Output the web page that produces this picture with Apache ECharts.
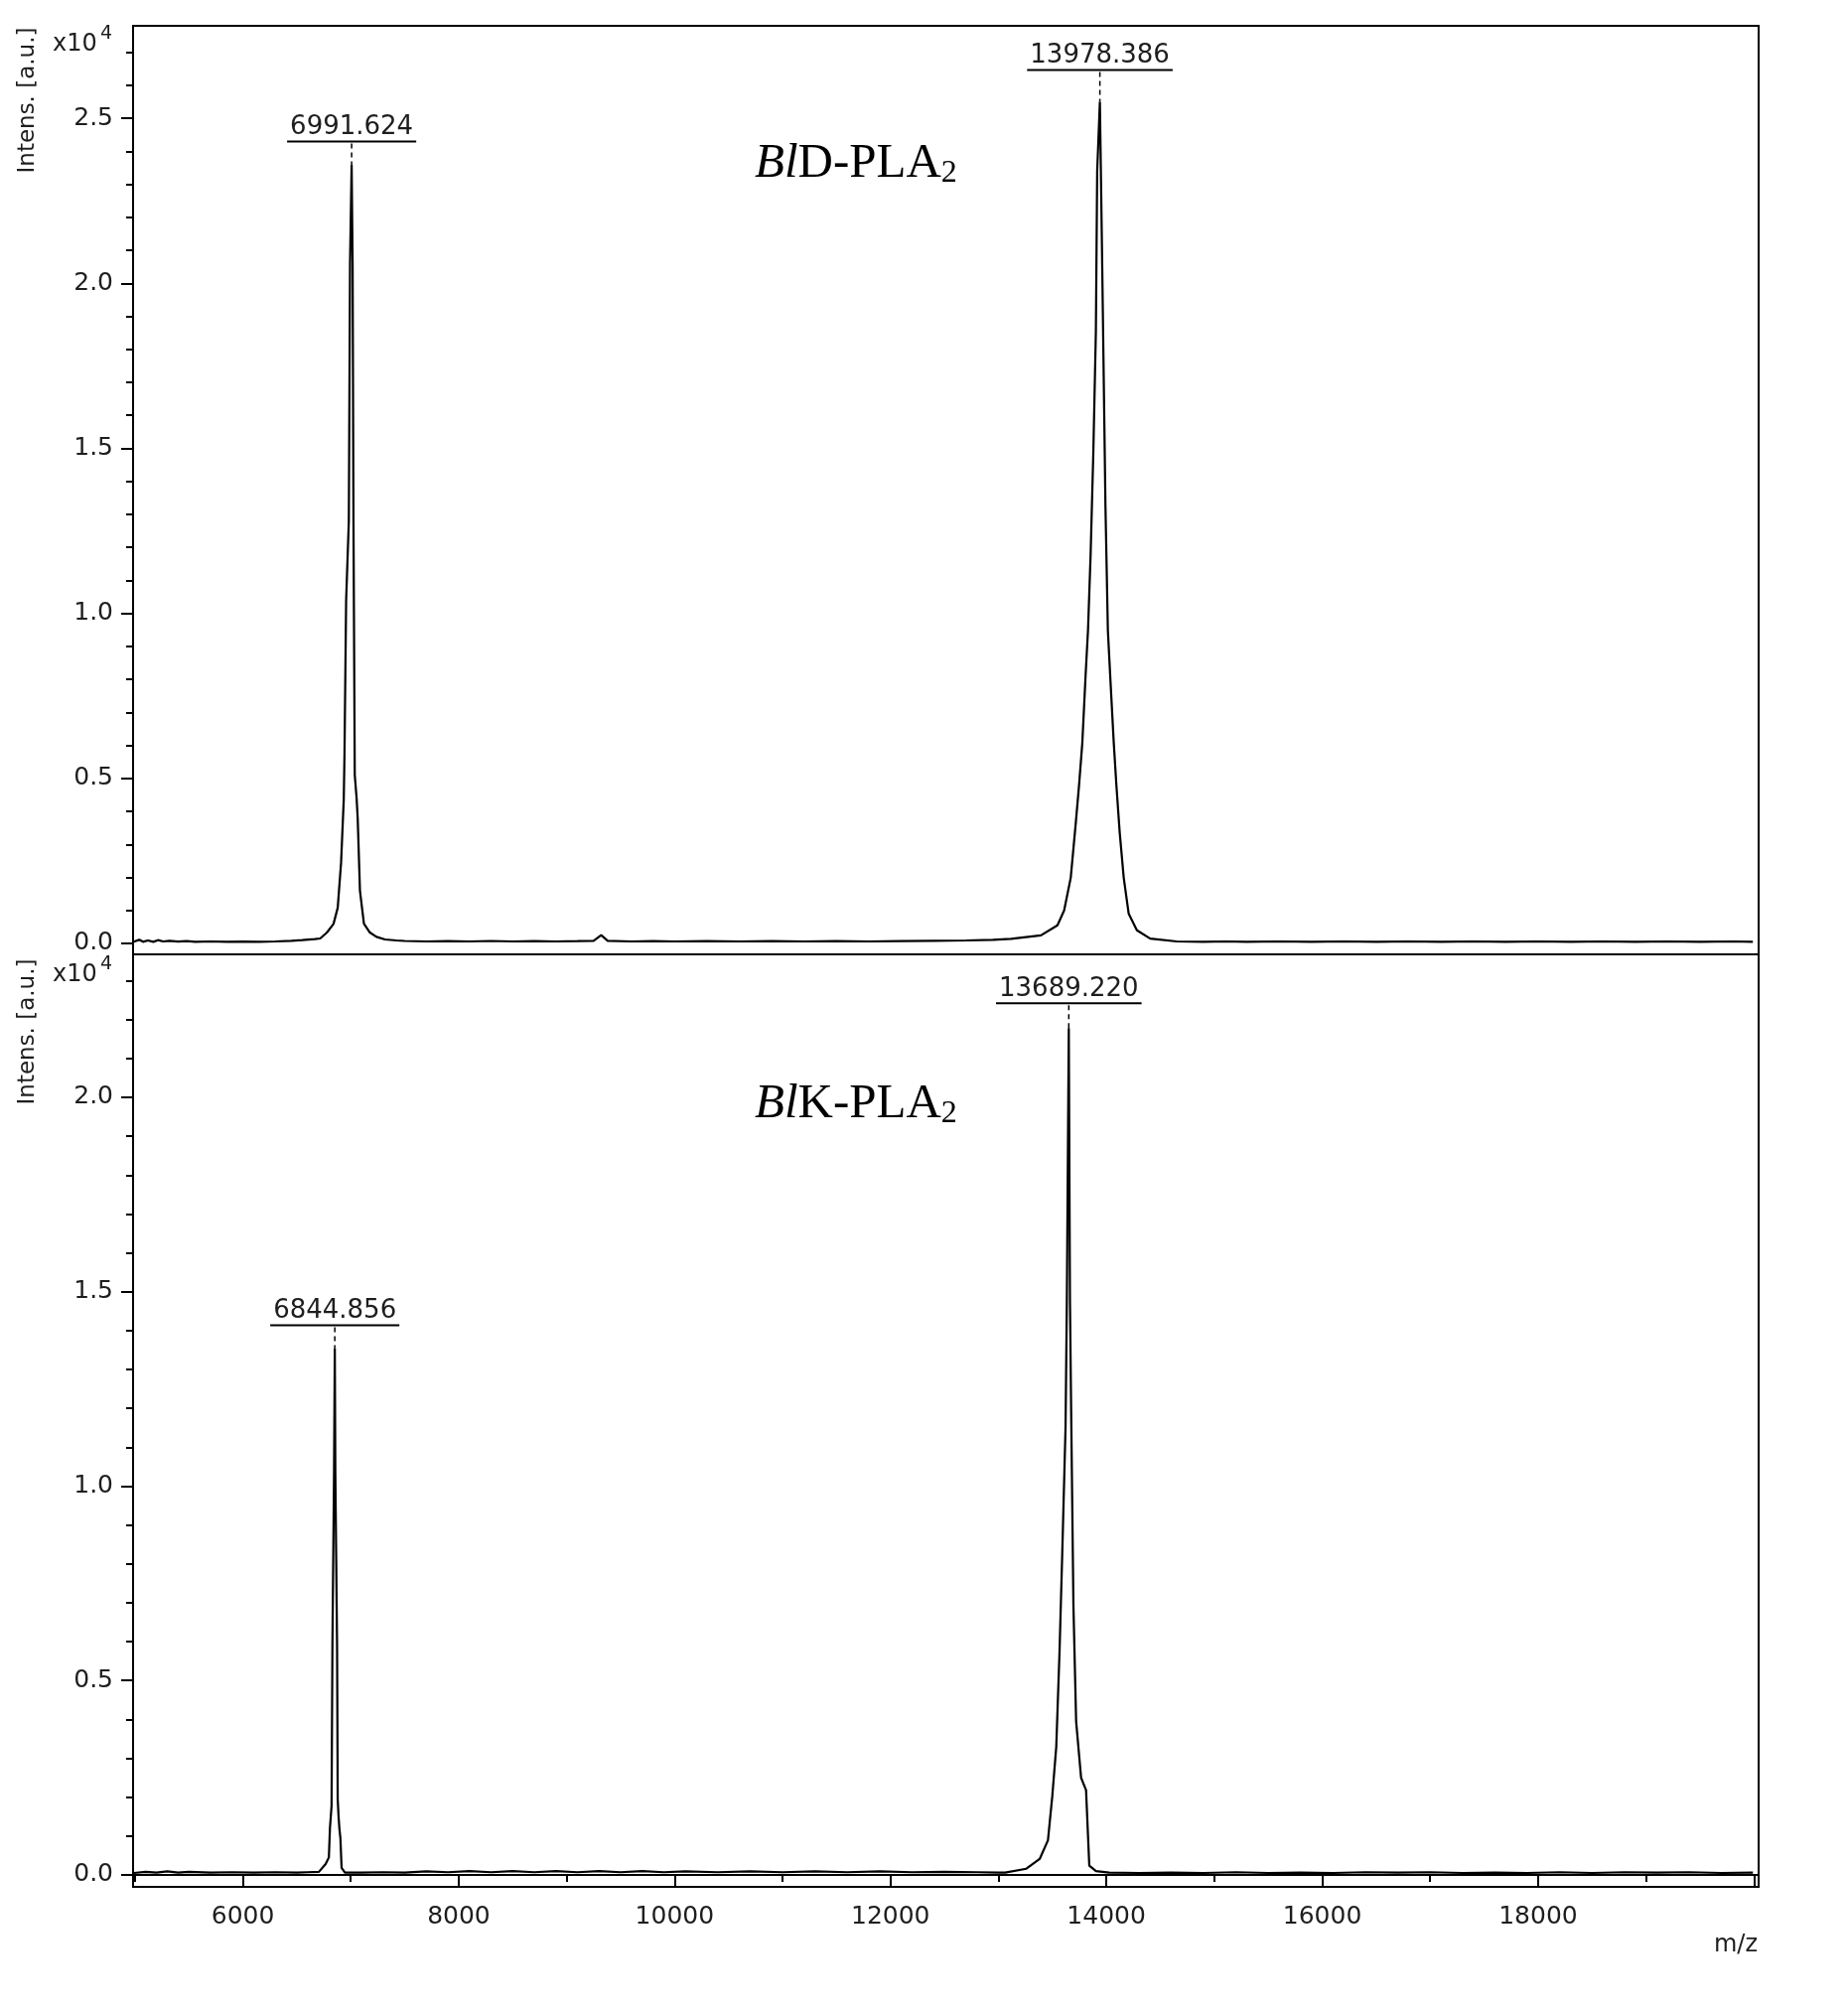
<!DOCTYPE html>
<html><head><meta charset="utf-8">
<script src="https://cdn.jsdelivr.net/npm/echarts@6/dist/echarts.min.js"></script>
<style>html,body{margin:0;padding:0;background:#fff}#c{width:1861px;height:2024px}</style>
</head><body><div id="c"></div>
<script>
// ---------- DATA ----------
// x axis (m/z)
const xRange = [4983, 20043];
const xTickLabels = [6000, 8000, 10000, 12000, 14000, 16000, 18000];
const xMajorTicks = [6000, 8000, 10000, 12000, 14000, 16000, 18000, 20000];
const xMinorTicks = [5000, 7000, 9000, 11000, 13000, 15000, 17000, 19000];
// y axes (intensity, a.u.)
const yRangeTop = [-331, 27800];
const yRangeBottom = [-307, 23678];
const yLabelsTop = [0, 5000, 10000, 15000, 20000, 25000];
const yMinorTop = [1000, 2000, 3000, 4000, 6000, 7000, 8000, 9000, 11000, 12000, 13000, 14000, 16000, 17000, 18000, 19000, 21000, 22000, 23000, 24000, 26000, 27000];
const yLabelsBottom = [0, 5000, 10000, 15000, 20000];
const yMinorBottom = [1000, 2000, 3000, 4000, 6000, 7000, 8000, 9000, 11000, 12000, 13000, 14000, 16000, 17000, 18000, 19000, 21000, 22000, 23000];

// BlD-PLA2 spectrum [m/z, intensity]
const spectrumD = [
  [4990,50],[5040,110],[5075,50],[5120,90],[5170,50],[5215,100],[5260,60],[5320,80],[5400,55],[5480,70],[5560,50],[5700,60],[5850,50],[6000,55],[6150,50],[6300,60],[6450,80],[6550,100],
  [6667,130],[6717,150],[6779,330],[6840,590],[6879,1080],[6910,2440],[6935,4360],[6942,5780],[6957,10400],[6982,12800],[6993,20600],[7008,23600],
  [7017,20600],[7025,12800],[7037,5100],[7054,4400],[7064,3800],[7085,1600],[7122,600],[7177,330],[7238,200],[7317,120],[7422,90],
  [7500,75],[7700,60],[7900,70],[8100,60],[8300,75],[8500,60],[8700,70],[8900,60],[9100,70],[9250,80],[9320,250],[9380,80],[9600,60],[9800,70],[10000,60],[10300,70],[10600,60],[10900,70],[11200,60],[11500,70],[11800,60],[12100,70],[12400,80],[12700,90],[12950,110],
  [13118,140],[13394,245],[13547,550],[13609,1000],[13670,1990],[13716,3620],[13747,4790],[13777,6060],[13808,8140],[13830,9490],[13854,11760],[13879,14830],[13903,18540],[13915,23400],[13940,25500],
  [13961,20700],[13992,13200],[14014,9490],[14038,7960],[14069,6060],[14093,4790],[14124,3350],[14161,1990],[14207,900],[14283,400],[14406,145],[14652,60],
  [14900,50],[15100,60],[15300,50],[15600,60],[15900,50],[16200,60],[16500,50],[16800,60],[17100,50],[17400,60],[17700,50],[18000,60],[18300,50],[18600,60],[18900,50],[19200,60],[19500,50],[19800,60],[19990,50]
];
// BlK-PLA2 spectrum [m/z, intensity]
const spectrumK = [
  [4990,50],[5100,80],[5200,60],[5300,90],[5400,60],[5500,80],[5700,60],[5900,70],[6100,60],[6300,70],[6500,60],[6600,70],
  [6705,80],[6767,280],[6797,450],[6807,1200],[6822,1775],[6830,5920],[6845,10340],[6852,13550],
  [6857,10340],[6873,5920],[6879,1940],[6887,1500],[6895,1175],[6904,945],[6915,180],[6946,60],
  [7100,60],[7300,70],[7500,60],[7700,90],[7900,70],[8100,100],[8300,70],[8500,100],[8700,70],[8900,100],[9100,70],[9300,100],[9500,70],[9700,100],[9900,70],[10100,90],[10400,70],[10700,90],[11000,70],[11300,90],[11600,70],[11900,90],[12200,70],[12500,80],[12800,70],[13000,60],
  [13063,60],[13259,160],[13382,410],[13459,890],[13499,2020],[13536,3300],[13566,5720],[13591,8220],[13622,11520],[13634,14750],[13652,21780],
  [13663,14750],[13674,11930],[13695,6930],[13720,3950],[13766,2500],[13812,2180],[13842,240],[13904,100],[14026,60],
  [14300,50],[14600,60],[14900,50],[15200,70],[15500,50],[15800,60],[16100,50],[16400,70],[16700,60],[17000,70],[17300,50],[17600,60],[17900,50],[18200,70],[18500,50],[18800,70],[19100,60],[19400,70],[19700,50],[19990,60]
];
// labelled peaks [apex m/z, apex intensity, label]
const peaksD = [[7008, 23600, '6991.624'], [13940, 25500, '13978.386']];
const peaksK = [[6852, 13550, '6844.856'], [13652, 21780, '13689.220']];
const titleD = ['Bl', 'D-PLA', '2'];
const titleK = ['Bl', 'K-PLA', '2'];

// ---------- STYLE / CHART ----------
const labelGapD = [23, 32];
const labelGapK = [23, 25];
const FONT = '"DejaVu Sans", sans-serif';
const TXT = '#1e1e1e';
const chart = echarts.init(document.getElementById('c'), null, {renderer: 'canvas'});

const mctx = document.createElement('canvas').getContext('2d');
function textW(t, f) { mctx.font = f; return mctx.measureText(t).width; }

const LEFT = 134, RIGHT_EDGE = 1771, TOP = 26, MID = 961, BOTTOM = 1900;

function yAxes(grid, range, labels, minor) {
  return [
    {type: 'value', gridIndex: grid, min: range[0], max: range[1], position: 'left',
     axisLine: {show: true, lineStyle: {color: '#000', width: 2}},
     axisTick: {show: true, length: 12, lineStyle: {color: '#000', width: 2}, customValues: labels},
     axisLabel: {show: true, margin: 20, color: TXT, fontSize: 25, fontFamily: FONT, customValues: labels,
                 formatter: v => (v / 10000).toFixed(1)},
     splitLine: {show: false}},
    {type: 'value', gridIndex: grid, min: range[0], max: range[1], position: 'left',
     axisLine: {show: false},
     axisTick: {show: true, length: 7, lineStyle: {color: '#000', width: 2}, customValues: minor},
     axisLabel: {show: false}, splitLine: {show: false}}
  ];
}

function peakSeries(peaks, gaps, xi, yi) {
  return {
    type: 'custom', coordinateSystem: 'cartesian2d', xAxisIndex: xi, yAxisIndex: yi,
    data: peaks.map(p => [p[0], p[1]]), silent: true, z: 5, animation: false,
    renderItem: function (params, api) {
      const p = api.coord([api.value(0), api.value(1)]);
      const txt = peaks[params.dataIndex][2];
      const f = '26px ' + FONT;
      const w = textW(txt, f) + 6;
      const uy = p[1] - gaps[params.dataIndex];
      return {type: 'group', children: [
        {type: 'line', shape: {x1: p[0] - w / 2, y1: uy, x2: p[0] + w / 2, y2: uy}, style: {stroke: '#000', lineWidth: 2}},
        {type: 'line', shape: {x1: p[0], y1: uy + 2, x2: p[0], y2: p[1]}, style: {stroke: '#000', lineWidth: 1.5, lineDash: [5, 4]}},
        {type: 'text', x: p[0], y: uy - 1, style: {text: txt, font: f, fill: TXT, align: 'center', verticalAlign: 'bottom'}}
      ]};
    }
  };
}

function title(parts, y) {
  return {
    type: 'text', left: 760, top: y, silent: true,
    style: {
      text: '{i|' + parts[0] + '}{n|' + parts[1] + '}{s|' + parts[2] + '}',
      rich: {
        i: {fontFamily: '"Liberation Serif", serif', fontStyle: 'italic', fontSize: 49, lineHeight: 50, fill: '#000'},
        n: {fontFamily: '"Liberation Serif", serif', fontSize: 49, lineHeight: 50, fill: '#000'},
        s: {fontFamily: '"Liberation Serif", serif', fontSize: 32, lineHeight: 22, verticalAlign: 'bottom', fill: '#000'}
      }
    }
  };
}

function scaleLabel(y) {
  return [
    {type: 'text', left: 53, top: y - 12, silent: true, style: {text: 'x10', font: '24px ' + FONT, fill: TXT}},
    {type: 'text', left: 101, top: y - 20, silent: true, style: {text: '4', font: '19px ' + FONT, fill: TXT}}
  ];
}
function intensLabel(cy) {
  return {type: 'text', x: 28, y: cy, rotation: Math.PI / 2, silent: true,
          style: {text: 'Intens. [a.u.]', font: '23px ' + FONT, fill: TXT, align: 'center', verticalAlign: 'middle'}};
}

const option = {
  animation: false,
  backgroundColor: '#fff',
  grid: [
    {left: LEFT, top: TOP, width: RIGHT_EDGE - LEFT, height: MID - TOP, show: true, borderColor: '#000', borderWidth: 2, backgroundColor: 'transparent'},
    {left: LEFT, top: MID, width: RIGHT_EDGE - LEFT, height: BOTTOM - MID, show: true, borderColor: '#000', borderWidth: 2, backgroundColor: 'transparent'}
  ],
  xAxis: [
    {type: 'value', gridIndex: 0, min: xRange[0], max: xRange[1], axisLine: {show: false}, axisTick: {show: false}, axisLabel: {show: false}, splitLine: {show: false}},
    {type: 'value', gridIndex: 1, min: xRange[0], max: xRange[1], position: 'bottom',
     axisLine: {show: true, lineStyle: {color: '#000', width: 2}},
     axisTick: {show: true, length: 12, lineStyle: {color: '#000', width: 2}, customValues: xMajorTicks},
     axisLabel: {show: true, margin: 18, color: TXT, fontSize: 25, fontFamily: FONT, customValues: xTickLabels,
                 formatter: v => String(v)},
     splitLine: {show: false}},
    {type: 'value', gridIndex: 1, min: xRange[0], max: xRange[1], position: 'bottom',
     axisLine: {show: false},
     axisTick: {show: true, length: 7, lineStyle: {color: '#000', width: 2}, customValues: xMinorTicks},
     axisLabel: {show: false}, splitLine: {show: false}}
  ],
  yAxis: [].concat(yAxes(0, yRangeTop, yLabelsTop, yMinorTop), yAxes(1, yRangeBottom, yLabelsBottom, yMinorBottom)),
  series: [
    {type: 'line', xAxisIndex: 0, yAxisIndex: 0, data: spectrumD, showSymbol: false, symbol: 'none',
     lineStyle: {color: '#000', width: 2.2}, silent: true, z: 3},
    {type: 'line', xAxisIndex: 1, yAxisIndex: 2, data: spectrumK, showSymbol: false, symbol: 'none',
     lineStyle: {color: '#000', width: 2.2}, silent: true, z: 3},
    peakSeries(peaksD, labelGapD, 0, 0),
    peakSeries(peaksK, labelGapK, 1, 2)
  ],
  graphic: [].concat(
    scaleLabel(45), scaleLabel(982),
    [intensLabel(101), intensLabel(1039),
     title(titleD, 141), title(titleK, 1088),
     {type: 'text', right: 1861 - 1770, top: 1947, silent: true, style: {text: 'm/z', font: '24px ' + FONT, fill: TXT}}]
  )
};
chart.setOption(option);
</script>
</body></html>
